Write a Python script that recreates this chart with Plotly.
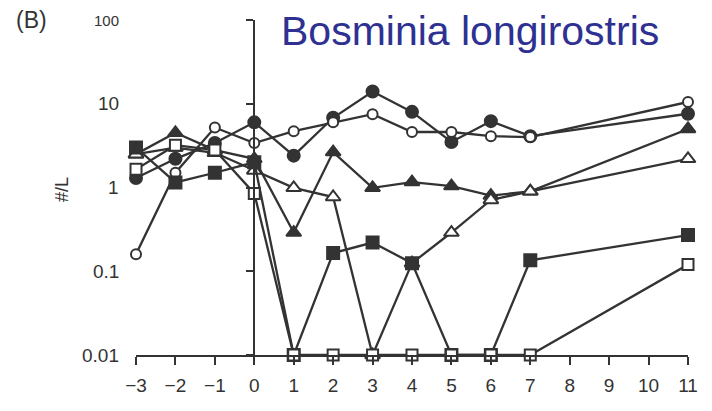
import math
import plotly.graph_objects as go

# ---- data ----
days = [-3, -2, -1, 0, 1, 2, 3, 4, 5, 6, 7, 11]
filled_circle = [1.3, 2.2, 3.4, 6.0, 2.4, 6.8, 14.0, 8.0, 3.5, 6.2, 4.1, 7.6]
open_circle = [0.16, 1.5, 5.2, 3.4, 4.7, 6.0, 7.5, 4.6, 4.6, 4.1, 4.0, 10.5]
filled_triangle = [2.5, 4.5, 2.8, 2.2, 0.29, 2.65, 0.99, 1.16, 1.04, 0.8, 0.9, 5.0]
open_triangle = [2.5, 3.0, 2.6, 1.6, 0.99, 0.77, 0.01, 0.125, 0.29, 0.71, 0.9, 2.2]
filled_square = [3.0, 1.15, 1.5, 2.0, 0.01, 0.165, 0.22, 0.125, 0.01, 0.01, 0.135, 0.27]
open_square = [1.65, 3.2, 2.8, 0.85, 0.01, 0.01, 0.01, 0.01, 0.01, 0.01, 0.01, 0.12]

x_ticks = list(range(-3, 12))
y_ticks = [0.01, 0.1, 1, 10, 100]
y_tick_labels = ["0.01", "0.1", "1", "10", "100"]
title_text = "Bosminia longirostris"
panel_text = "(B)"
y_label = "#/L"

INK = "#333333"
FONT = "Liberation Sans, Arial, sans-serif"

fig = go.Figure()

series = [
    (filled_circle, "circle", INK, 12),
    (open_circle, "circle", "white", 10),
    (filled_triangle, "triangle-up", INK, 13),
    (open_triangle, "triangle-up", "white", 13),
    (filled_square, "square", INK, 12),
    (open_square, "square", "white", 11),
]
for vals, sym, fill, size in series:
    fig.add_trace(go.Scatter(
        x=days, y=vals, mode="lines+markers",
        line=dict(color=INK, width=2.3),
        marker=dict(symbol=sym, size=size, color=fill, line=dict(color=INK, width=2)),
        cliponaxis=False, showlegend=False,
    ))

fig.update_xaxes(
    range=[-3, 11], tickvals=x_ticks, showgrid=False, zeroline=False,
    showline=True, linecolor=INK, linewidth=2,
    ticks="outside", ticklen=8, tickwidth=2, tickcolor=INK,
    ticklabelstandoff=4,
    tickfont=dict(family=FONT, size=19, color=INK),
)
fig.update_yaxes(
    type="log", range=[-2, 2], tickvals=y_ticks, showgrid=False, zeroline=False,
    showline=True, linecolor=INK, linewidth=2,
    anchor="free", position=3 / 14,
    ticks="outside", ticklen=7, tickwidth=2, tickcolor=INK,
    showticklabels=False,
)

annotations = []
for v, t in zip(y_ticks, y_tick_labels):
    annotations.append(dict(
        x=-0.027, xref="paper", y=math.log10(v), yref="y", text=t, showarrow=False,
        xanchor="right", yanchor="middle",
        font=dict(family=FONT, size=15 if t == "100" else 19, color=INK),
    ))
annotations.append(dict(
    x=-0.134, xref="paper", y=0.4925, yref="paper", text=y_label, showarrow=False,
    textangle=-90, xanchor="center", yanchor="middle",
    font=dict(family=FONT, size=18, color=INK),
))
annotations.append(dict(
    x=-0.19, xref="paper", y=1.0, yref="paper", text=panel_text, showarrow=False,
    xanchor="center", yanchor="middle",
    font=dict(family=FONT, size=23, color=INK),
))
annotations.append(dict(
    x=0.605, xref="paper", y=0.968, yref="paper", text=title_text, showarrow=False,
    xanchor="center", yanchor="middle",
    font=dict(family=FONT, size=41, color="#2e3192"),
))

# page body adds an 8px margin; figure is sized so the plot area lands where the reference has it
fig.update_layout(
    width=704, height=403,
    margin=dict(l=128, r=24, t=12, b=56),
    paper_bgcolor="white", plot_bgcolor="white",
    annotations=annotations,
)

fig.write_html("out.html")
